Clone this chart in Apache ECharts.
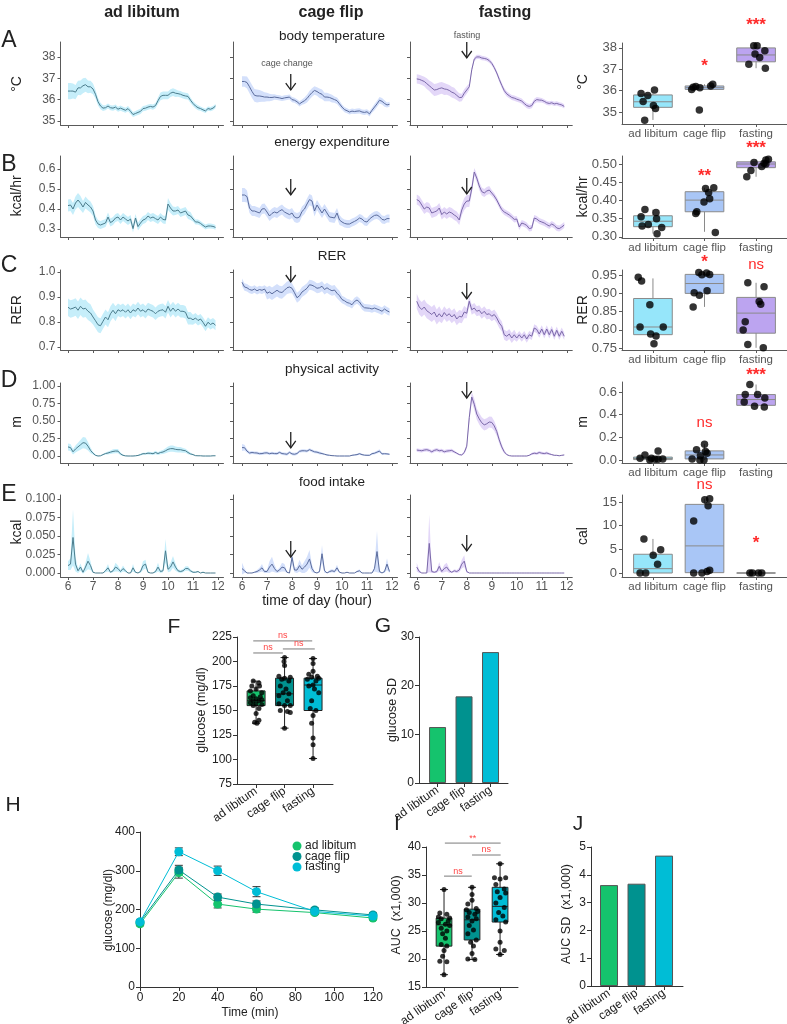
<!DOCTYPE html>
<html><head><meta charset="utf-8">
<script src="https://cdn.jsdelivr.net/npm/echarts@6/dist/echarts.min.js"></script>
<style>html,body{margin:0;padding:0;background:#fff}#c{width:787px;height:1024px}</style>
</head><body><div id="c"></div>
<script>
// ---------------- DATA ----------------
const groups = ['ad libitum', 'cage flip', 'fasting'];
const hourTicks = [6, 7, 8, 9, 10, 11, 12];
const hours = [6.0,6.1,6.2,6.3,6.4,6.5,6.6,6.7,6.8,6.9,
  7.0,7.1,7.2,7.3,7.4,7.5,7.6,7.7,7.8,7.9,
  8.0,8.1,8.2,8.3,8.4,8.5,8.6,8.7,8.8,8.9,
  9.0,9.1,9.2,9.3,9.4,9.5,9.6,9.7,9.8,9.9,
  10.0,10.1,10.2,10.3,10.4,10.5,10.6,10.7,10.8,10.9,
  11.0,11.1,11.2,11.3,11.4,11.5,11.6,11.7,11.8,11.9];

// body temperature (°C)
const btAdLib = [36.4,36.4,36.4,36.35,36.55,36.55,36.65,36.7,36.6,36.6,
  36.5,36.25,35.9,35.7,35.6,35.62,35.7,35.62,35.6,35.65,
  35.55,35.6,35.55,35.5,35.58,35.45,35.3,35.35,35.4,35.45,
  35.58,35.6,35.65,35.68,35.65,35.72,35.95,36.15,36.2,36.2,
  36.2,36.3,36.35,36.3,36.28,36.25,36.2,36.17,36.15,35.97,
  35.82,35.7,35.62,35.58,35.52,35.47,35.58,35.55,35.6,35.7];
const btAdLibSem = [0.38,0.38,0.35,0.33,0.33,0.35,0.35,0.33,0.3,0.28,
  0.25,0.2,0.18,0.15,0.13,0.12,0.12,0.12,0.12,0.12,
  0.12,0.12,0.12,0.12,0.12,0.12,0.12,0.12,0.12,0.12,
  0.12,0.12,0.12,0.12,0.12,0.12,0.15,0.18,0.18,0.18,
  0.18,0.18,0.18,0.18,0.15,0.15,0.15,0.15,0.15,0.13,
  0.12,0.12,0.12,0.1,0.1,0.1,0.1,0.1,0.1,0.1];
const btCage = [36.85,36.85,36.8,36.6,36.38,36.2,36.17,36.17,36.15,36.12,
  36.12,36.1,36.1,36.12,36.1,36.08,36.05,36.08,36.1,36.12,
  36.0,35.97,35.9,35.8,35.88,35.95,36.05,36.2,36.33,36.43,
  36.38,36.3,36.25,36.12,36.12,36.1,36.05,36.0,35.95,35.8,
  35.65,35.53,35.48,35.42,35.46,35.44,35.46,35.47,35.42,35.4,
  35.43,35.33,35.5,35.65,35.8,35.97,35.92,35.82,35.75,35.78];
const btCageSem = [0.25,0.25,0.28,0.3,0.3,0.3,0.3,0.28,0.25,0.22,
  0.2,0.18,0.15,0.13,0.12,0.12,0.12,0.12,0.12,0.12,
  0.12,0.12,0.12,0.12,0.12,0.15,0.18,0.2,0.2,0.2,
  0.2,0.22,0.22,0.2,0.2,0.18,0.18,0.15,0.15,0.15,
  0.12,0.12,0.12,0.12,0.12,0.12,0.12,0.12,0.12,0.12,
  0.12,0.12,0.12,0.15,0.15,0.15,0.15,0.15,0.12,0.12];
const btFast = [36.97,36.95,36.9,36.85,36.75,36.65,36.55,36.45,36.47,36.52,
  36.55,36.5,36.48,36.43,36.35,36.3,36.2,36.1,36.1,36.3,
  36.45,36.6,37.4,37.9,38.0,38.0,37.95,37.93,37.9,37.83,
  37.7,37.5,37.25,36.95,36.67,36.42,36.27,36.18,36.1,36.07,
  36.02,35.98,35.93,35.82,35.72,35.68,35.72,35.92,36.0,35.98,
  35.97,35.92,35.85,35.82,35.85,35.8,35.82,35.78,35.75,35.68];
const btFastSem = [0.22,0.22,0.22,0.22,0.25,0.25,0.28,0.28,0.28,0.28,
  0.28,0.28,0.25,0.25,0.25,0.25,0.22,0.2,0.18,0.18,
  0.18,0.15,0.12,0.1,0.1,0.1,0.1,0.1,0.1,0.1,
  0.1,0.1,0.1,0.12,0.12,0.12,0.12,0.12,0.12,0.12,
  0.12,0.12,0.12,0.12,0.12,0.12,0.12,0.12,0.12,0.12,
  0.1,0.1,0.1,0.1,0.1,0.1,0.1,0.1,0.1,0.1];

// energy expenditure (kcal/hr)
const eeAdLib = [0.417,0.42,0.40,0.43,0.445,0.43,0.41,0.433,0.42,0.41,
  0.39,0.345,0.325,0.32,0.325,0.33,0.36,0.332,0.34,0.355,
  0.36,0.345,0.36,0.35,0.34,0.35,0.302,0.355,0.312,0.33,
  0.345,0.35,0.365,0.355,0.36,0.352,0.345,0.36,0.348,0.345,
  0.425,0.405,0.39,0.39,0.395,0.38,0.385,0.39,0.37,0.365,
  0.35,0.335,0.335,0.328,0.318,0.31,0.315,0.315,0.313,0.308];
const eeAdLibSem = [0.03,0.03,0.03,0.032,0.035,0.035,0.03,0.03,0.028,0.028,
  0.025,0.022,0.02,0.02,0.02,0.02,0.022,0.02,0.02,0.02,
  0.02,0.02,0.02,0.02,0.02,0.02,0.02,0.02,0.02,0.02,
  0.02,0.02,0.02,0.02,0.02,0.02,0.02,0.02,0.02,0.02,
  0.03,0.025,0.022,0.02,0.02,0.02,0.02,0.02,0.02,0.02,
  0.012,0.012,0.012,0.012,0.012,0.012,0.012,0.012,0.012,0.012];
const eeCage = [0.47,0.47,0.462,0.405,0.39,0.39,0.385,0.38,0.4,0.402,
  0.385,0.365,0.378,0.385,0.38,0.39,0.397,0.385,0.378,0.372,
  0.38,0.36,0.355,0.36,0.388,0.4,0.425,0.447,0.44,0.39,
  0.42,0.4,0.38,0.4,0.38,0.36,0.358,0.355,0.38,0.345,
  0.335,0.328,0.325,0.325,0.332,0.338,0.345,0.355,0.35,0.338,
  0.335,0.35,0.36,0.368,0.37,0.362,0.348,0.345,0.352,0.352];
const eeCageSem = [0.035,0.035,0.03,0.025,0.025,0.025,0.025,0.025,0.025,0.025,
  0.025,0.025,0.025,0.025,0.025,0.025,0.025,0.025,0.025,0.025,
  0.025,0.025,0.025,0.025,0.025,0.025,0.028,0.028,0.028,0.028,
  0.025,0.025,0.025,0.025,0.025,0.025,0.025,0.025,0.025,0.025,
  0.02,0.02,0.02,0.02,0.02,0.02,0.02,0.02,0.02,0.02,
  0.02,0.02,0.02,0.02,0.02,0.02,0.02,0.02,0.02,0.02];
const eeFast = [0.447,0.44,0.42,0.4,0.41,0.405,0.38,0.385,0.39,0.405,
  0.372,0.385,0.375,0.385,0.38,0.37,0.362,0.345,0.395,0.425,
  0.44,0.44,0.5,0.585,0.555,0.515,0.487,0.48,0.49,0.495,
  0.48,0.465,0.445,0.42,0.397,0.385,0.378,0.37,0.36,0.348,
  0.35,0.31,0.33,0.325,0.318,0.302,0.305,0.355,0.35,0.34,
  0.335,0.33,0.322,0.315,0.325,0.318,0.305,0.302,0.31,0.32];
const eeFastSem = [0.025,0.025,0.025,0.025,0.025,0.025,0.025,0.025,0.025,0.025,
  0.025,0.025,0.025,0.025,0.025,0.025,0.025,0.025,0.028,0.03,
  0.03,0.03,0.025,0.02,0.02,0.02,0.02,0.02,0.02,0.02,
  0.015,0.015,0.015,0.015,0.015,0.015,0.015,0.015,0.015,0.015,
  0.015,0.015,0.015,0.015,0.015,0.015,0.015,0.015,0.015,0.015,
  0.015,0.015,0.015,0.015,0.015,0.015,0.015,0.015,0.015,0.015];

// RER
const rerAdLib = [0.859,0.852,0.855,0.86,0.847,0.863,0.852,0.855,0.843,0.836,
  0.82,0.805,0.789,0.785,0.803,0.82,0.809,0.833,0.847,0.833,
  0.849,0.843,0.849,0.839,0.849,0.836,0.849,0.843,0.856,0.843,
  0.849,0.839,0.852,0.847,0.843,0.833,0.843,0.847,0.849,0.839,
  0.863,0.843,0.856,0.843,0.852,0.843,0.843,0.839,0.815,0.815,
  0.809,0.816,0.806,0.812,0.799,0.783,0.799,0.79,0.796,0.787];
const rerAdLibSem = [0.035,0.035,0.035,0.035,0.035,0.035,0.035,0.035,0.035,0.035,
  0.03,0.03,0.03,0.03,0.03,0.03,0.03,0.03,0.03,0.03,
  0.025,0.025,0.025,0.025,0.025,0.025,0.025,0.025,0.025,0.025,
  0.025,0.025,0.025,0.025,0.025,0.025,0.025,0.025,0.025,0.025,
  0.025,0.025,0.025,0.025,0.025,0.025,0.025,0.025,0.025,0.025,
  0.02,0.02,0.02,0.02,0.02,0.02,0.02,0.02,0.02,0.02];
const rerCage = [0.959,0.94,0.937,0.93,0.927,0.932,0.925,0.93,0.927,0.932,
  0.915,0.92,0.913,0.92,0.927,0.92,0.918,0.927,0.937,0.94,
  0.935,0.917,0.897,0.905,0.92,0.927,0.935,0.949,0.947,0.942,
  0.935,0.937,0.943,0.93,0.937,0.93,0.925,0.928,0.915,0.905,
  0.89,0.885,0.878,0.875,0.869,0.882,0.888,0.88,0.865,0.857,
  0.856,0.855,0.852,0.856,0.852,0.848,0.843,0.852,0.845,0.84];
const rerCageSem = [0.015,0.015,0.015,0.015,0.015,0.015,0.015,0.015,0.015,0.015,
  0.025,0.025,0.025,0.025,0.025,0.025,0.025,0.025,0.025,0.025,
  0.02,0.02,0.02,0.02,0.02,0.02,0.02,0.02,0.02,0.02,
  0.02,0.02,0.02,0.02,0.02,0.02,0.02,0.02,0.02,0.02,
  0.015,0.015,0.015,0.015,0.015,0.015,0.015,0.015,0.015,0.015,
  0.015,0.015,0.015,0.015,0.015,0.015,0.015,0.015,0.015,0.015];
const rerFast = [0.883,0.86,0.85,0.86,0.845,0.838,0.83,0.84,0.82,0.833,
  0.82,0.838,0.825,0.833,0.82,0.83,0.812,0.823,0.82,0.84,
  0.835,0.883,0.849,0.856,0.843,0.847,0.833,0.843,0.83,0.833,
  0.823,0.83,0.816,0.796,0.783,0.749,0.743,0.752,0.736,0.749,
  0.736,0.749,0.736,0.749,0.732,0.749,0.743,0.776,0.77,0.752,
  0.772,0.749,0.772,0.749,0.77,0.743,0.767,0.743,0.763,0.743];
const rerFastSem = [0.03,0.03,0.03,0.03,0.03,0.03,0.03,0.03,0.03,0.03,
  0.025,0.025,0.025,0.025,0.025,0.025,0.025,0.025,0.025,0.025,
  0.02,0.02,0.02,0.02,0.02,0.02,0.02,0.02,0.02,0.02,
  0.02,0.02,0.02,0.02,0.02,0.02,0.02,0.02,0.02,0.02,
  0.015,0.015,0.015,0.015,0.015,0.015,0.015,0.015,0.015,0.015,
  0.015,0.015,0.015,0.015,0.015,0.015,0.015,0.015,0.015,0.015];

// physical activity (m)
const paAdLib = [0.13,0.12,0.06,0.1,0.13,0.16,0.19,0.185,0.14,0.08,
  0.04,0.01,0,0.003,0.02,0.035,0.043,0.055,0.065,0.071,
  0.07,0.03,0.01,0.002,0,0,0,0.003,0.008,0.02,
  0.033,0.033,0.04,0.038,0.033,0.05,0.035,0.05,0.057,0.075,
  0.095,0.105,0.105,0.095,0.09,0.09,0.081,0.075,0.05,0.03,
  0.02,0.005,0.003,0.003,0,0,0,0,0.003,0.003];
const paAdLibSem = [0.05,0.05,0.04,0.05,0.06,0.07,0.08,0.08,0.06,0.04,
  0.02,0.01,0.005,0.005,0.01,0.015,0.02,0.025,0.03,0.03,
  0.03,0.02,0.01,0.005,0.003,0.003,0.003,0.005,0.008,0.012,
  0.015,0.015,0.02,0.02,0.02,0.025,0.02,0.025,0.03,0.035,
  0.04,0.045,0.045,0.04,0.04,0.04,0.035,0.03,0.025,0.015,
  0.01,0.005,0.003,0.003,0.002,0.002,0.002,0.002,0.003,0.003];
const paCage = [0.12,0.119,0.07,0.043,0.05,0.045,0.043,0.033,0.035,0.043,
  0.045,0.033,0.04,0.035,0.033,0.052,0.035,0.03,0.025,0.052,
  0.03,0.025,0.035,0.067,0.075,0.075,0.07,0.09,0.075,0.06,
  0.055,0.043,0.035,0.025,0.015,0.01,0.005,0.003,0,0,
  0,0,0,0,0.01,0.015,0.02,0.033,0.02,0.012,
  0.01,0.01,0.033,0.04,0.055,0.071,0.03,0.033,0.03,0.025];
const paCageSem = [0.05,0.04,0.025,0.02,0.02,0.02,0.02,0.02,0.02,0.02,
  0.02,0.02,0.02,0.02,0.02,0.02,0.02,0.02,0.02,0.02,
  0.02,0.02,0.02,0.02,0.02,0.02,0.02,0.02,0.02,0.02,
  0.02,0.02,0.015,0.012,0.01,0.008,0.005,0.003,0.002,0.002,
  0.002,0.002,0.002,0.002,0.008,0.01,0.012,0.015,0.012,0.01,
  0.01,0.01,0.015,0.018,0.02,0.025,0.015,0.015,0.012,0.01];
const paFast = [0.085,0.08,0.075,0.085,0.09,0.08,0.06,0.08,0.09,0.075,
  0.08,0.06,0.07,0.075,0.08,0.06,0.04,0.02,0.015,0.05,
  0.14,0.55,0.843,0.74,0.6,0.53,0.475,0.445,0.46,0.486,
  0.48,0.43,0.35,0.23,0.13,0.06,0.02,0.005,0,0,
  0,0,0,0,0,0.01,0.03,0.04,0.035,0.05,
  0.04,0.035,0.043,0.03,0.02,0.01,0.01,0.003,0.01,0.015];
const paFastSem = [0.025,0.025,0.025,0.025,0.025,0.025,0.025,0.025,0.025,0.025,
  0.025,0.025,0.025,0.025,0.025,0.02,0.015,0.01,0.01,0.02,
  0.04,0.08,0.07,0.08,0.08,0.08,0.08,0.08,0.08,0.08,
  0.08,0.07,0.06,0.05,0.04,0.025,0.01,0.003,0.002,0.002,
  0.002,0.002,0.002,0.002,0.002,0.008,0.015,0.02,0.02,0.02,
  0.02,0.02,0.02,0.015,0.01,0.008,0.005,0.003,0.005,0.005];

// food intake (kcal)
const foodAdLib = [0.01,0.012,0.048,0.012,0.003,0.008,0.001,0.008,0.016,0.01,
  0.001,0,0,0,0,0.003,0.007,0.001,0.003,0.008,
  0.006,0.002,0.006,0.003,0,0,0.007,0.001,0,0.002,
  0.01,0.012,0.001,0,0,0.002,0.008,0.002,0.003,0.03,
  0.005,0.008,0.015,0.008,0.003,0.002,0.003,0.006,0.006,0.003,
  0.001,0.001,0.002,0,0.001,0,0,0,0,0];
const foodAdLibSem = [0.006,0.008,0.038,0.01,0.003,0.005,0.002,0.006,0.011,0.006,
  0.001,0,0,0,0,0.002,0.005,0.001,0.002,0.006,
  0.004,0.002,0.004,0.002,0,0,0.005,0.001,0,0.002,
  0.006,0.006,0.001,0,0,0.002,0.006,0.002,0.002,0.016,
  0.004,0.006,0.008,0.005,0.002,0.002,0.002,0.003,0.003,0.002,
  0.001,0.001,0.001,0,0.001,0,0,0,0,0];
const foodCage = [0.006,0.003,0,0,0,0.001,0.002,0.004,0.007,0.002,
  0.002,0.008,0.012,0.006,0.002,0.004,0.008,0.007,0.001,0,
  0.021,0.004,0.004,0.01,0.005,0.008,0.012,0.019,0.006,0.001,
  0,0.002,0.026,0.003,0,0.002,0.003,0.002,0.007,0.001,
  0,0,0.001,0,0,0,0.002,0.003,0,0,
  0,0,0,0.006,0.029,0.002,0,0.002,0.012,0.002];
const foodCageSem = [0.008,0.003,0,0,0,0.001,0.002,0.003,0.005,0.002,
  0.002,0.008,0.01,0.005,0.002,0.003,0.006,0.005,0.001,0,
  0.01,0.003,0.004,0.008,0.005,0.008,0.01,0.012,0.005,0.001,
  0,0.002,0.012,0.003,0,0.002,0.002,0.002,0.004,0.001,
  0,0,0,0,0,0,0.001,0.002,0,0,
  0,0,0,0.004,0.028,0.002,0,0.002,0.008,0.002];
const foodFast = [0.008,0.002,0,0,0,0.04,0.002,0.001,0.002,0.009,
  0.002,0.006,0.008,0.003,0.001,0.003,0.002,0.004,0.012,0.016,
  0.002,0,0,0,0,0,0,0,0,0,
  0,0,0,0,0,0,0,0,0,0,
  0,0,0,0,0,0,0,0,0,0,
  0,0,0,0,0,0,0,0,0,0];
const foodFastSem = [0.006,0.002,0,0,0,0.039,0.002,0.001,0.002,0.006,
  0.002,0.005,0.006,0.003,0.001,0.002,0.002,0.003,0.006,0.008,
  0.002,0,0,0,0,0,0,0,0,0,
  0,0,0,0,0,0,0,0,0,0,
  0,0,0,0,0,0,0,0,0,0,
  0,0,0,0,0,0,0,0,0,0];

// right-hand box plots: [min, q1, median, q3, max] per group, points as [x, y]
const tempBoxes = [[34.63,35.22,35.48,35.8,35.87],[36.05,36.06,36.14,36.22,36.3],[37.05,37.35,37.67,38.0,38.1]];
const tempPts = [[0.77,35.87],[1.03,36.03],[0.9,35.77],[0.81,35.49],[1.01,35.3],[1.05,35.17],[0.84,34.62],
  [1.75,36.06],[1.83,36.19],[1.91,36.14],[2.12,36.22],[2.16,36.3],[1.9,35.1],[1.78,36.16],
  [2.955,38.1],[3.02,38.1],[3.17,37.87],[2.98,37.72],[3.07,37.55],[2.86,37.24],[3.18,37.05]];
const tempSig = [[2,37.3,'*'],[3,39.2,'***']];
const eeBoxes = [[0.309,0.328,0.343,0.358,0.375],[0.314,0.369,0.401,0.424,0.435],[0.465,0.49,0.5,0.506,0.513]];
const eePts = [[0.845,0.375],[1.06,0.367],[0.77,0.355],[1.07,0.35],[0.91,0.334],[0.79,0.33],[1.17,0.326],[1.08,0.309],
  [2.02,0.433],[2.08,0.422],[2.18,0.435],[2.1,0.405],[1.99,0.396],[1.85,0.369],[1.83,0.364],[2.21,0.312],
  [2.96,0.504],[3.155,0.502],[3.19,0.511],[3.24,0.513],[3.19,0.5],[3.11,0.493],[2.9,0.482],[2.82,0.465]];
const eeSig = [[2,0.475,'**'],[3,0.552,'***']];
const rerBoxes = [[0.787,0.787,0.808,0.886,0.941],[0.863,0.9,0.927,0.952,0.957],[0.751,0.791,0.846,0.889,0.929]];
const rerPts = [[0.715,0.944],[0.78,0.934],[0.94,0.869],[0.75,0.808],[1.2,0.808],[0.955,0.789],[1.06,0.783],[1.02,0.762],
  [1.89,0.957],[2.04,0.956],[2.1,0.952],[1.95,0.951],[1.8,0.902],[1.9,0.895],[2.05,0.907],[1.78,0.863],
  [2.84,0.929],[3.155,0.918],[3.06,0.878],[3.09,0.87],[2.79,0.822],[2.75,0.8],[2.84,0.76],[3.14,0.751]];
const rerSig = [[2,0.994,'*'],[3,0.977,'ns']];
const paBoxes = [[0,0.003,0.013,0.025,0.044],[0,0.009,0.044,0.08,0.139],[0.467,0.482,0.533,0.577,0.666]];
const paPts = [[0.75,0.015],[0.845,0.044],[0.97,0.015],[1.04,0.006],[1.1,0.006],[1.19,0.009],[1.1,0.08],[0.94,0.0],
  [2.0,0.139],[1.845,0.089],[2.02,0.074],[2.05,0.059],[1.92,0.036],[1.76,0.009],[1.91,0.0],[1.99,0.0],
  [2.88,0.666],[2.79,0.577],[3.03,0.577],[3.17,0.547],[2.77,0.512],[2.97,0.473],[3.16,0.467]];
const paSig = [[2,0.326,'ns'],[3,0.777,'***']];
const foodBoxes = [[0,0,0.92,3.96,7.2],[0,0.07,5.73,14.5,15.7],[0,0,0,0,0]];
const foodPts = [[0.825,7.2],[1.15,4.9],[1.005,3.75],[1.09,1.84],[0.75,0],[0.86,0],
  [2.1,15.7],[2.005,15.5],[2.07,14.2],[1.79,11.0],[2.1,0.6],[2.05,0.3],[1.79,0],[1.95,0],
  [2.88,0],[2.93,0],[3.045,0],[3.11,0]];
const foodSig = [[2,18.6,'ns'],[3,6.97,'*']];

// F: fasting glucose (mg/dl)
const fBoxes = [[137,155,160,170,180],[132,155,167,183,204],[101,150,176,183,203]];
const fPts = [[0.9,180],[1.1,178],[0.85,175],[1.12,175],[1.0,172],[0.8,170],[1.2,168],[0.9,165],[1.15,164],[0.8,163],[1.0,162],[1.2,161],[0.9,160],[1.1,160],[0.8,158],[1.0,157],[1.2,156],[0.9,155],[1.1,152],[1.0,147],[1.1,140],[0.95,138],[1.03,137],
  [2.0,204],[1.98,200],[2.0,196],[1.8,185],[2.2,184],[2.0,183],[1.9,182],[2.15,180],[1.85,175],[2.05,172],[1.95,168],[2.15,167],[1.8,165],[2.1,160],[1.8,157],[2.2,155],[2.0,155],[1.85,150],[2.1,149],[2.2,148],[2.0,132],
  [3.0,203],[3.0,198],[3.0,190],[2.85,187],[3.15,185],[2.95,184],[3.2,183],[2.8,182],[3.1,180],[3.0,176],[2.85,175],[3.05,172],[3.2,168],[2.95,160],[2.9,152],[3.1,150],[3.0,145],[2.95,137],[3.0,122],[3.0,115],[3.0,101]];
const fBrackets = [[0.9,2.97,221,'ns'],[0.9,1.94,208.7,'ns'],[1.94,3.06,212.8,'ns']];
// G: glucose SD
const gSD = [11.5, 17.8, 26.9];
// H: glucose tolerance test
const hTimes = [0, 20, 40, 60, 90, 120];
const hAdLib = [163, 295, 214, 201, 192, 178];
const hAdLibErr = [5, 14, 10, 8, 5, 5];
const hCage = [168, 302, 232, 214, 199, 186];
const hCageErr = [5, 12, 8, 8, 5, 5];
const hFast = [168, 349, 300, 246, 195, 183];
const hFastErr = [5, 10, 12, 13, 5, 5];
// I: AUC (x1,000)
const iBoxes = [[17.2,22.3,26.1,27.3,32.4],[19.9,23.4,27.0,28.9,32.8],[20.8,26.6,29.4,32.8,37.0]];
const iPts = [[1.0,32.4],[0.85,28.2],[1.1,28.0],[0.8,27.5],[1.2,27.3],[0.9,27.2],[1.15,26.8],[0.8,26.5],[1.05,26.2],[1.2,26.0],[0.9,25.5],[1.1,25.0],[0.95,24.5],[1.05,23.7],[0.9,22.6],[1.1,22.3],[1.0,21.5],[0.95,20.5],[0.85,19.6],[1.1,19.5],[1.0,17.2],
  [2.0,32.8],[2.0,31.5],[2.0,30.5],[1.85,29.8],[2.15,29.0],[1.8,28.8],[2.2,28.5],[1.9,28.3],[2.1,28.0],[1.85,27.5],[2.15,27.2],[2.0,26.8],[1.9,26.0],[2.05,25.2],[1.85,24.5],[2.15,23.4],[1.95,23.0],[2.05,22.3],[2.0,21.0],[1.85,20.0],[2.1,19.9],
  [3.0,37.0],[2.8,34.5],[3.2,34.5],[3.0,34.3],[2.85,33.3],[3.15,32.5],[2.9,32.0],[3.2,31.8],[3.0,31.0],[2.85,30.0],[3.15,29.2],[2.95,28.3],[3.1,27.7],[2.85,27.0],[3.2,26.6],[3.0,25.0],[3.0,23.0],[2.85,21.8],[3.15,21.5],[3.0,20.8]];
const iBrackets = [[1.03,3.02,40.7,'**'],[2.0,3.02,38.57,'ns'],[1.0,1.99,34.8,'ns']];
// J: AUC SD (x1,000)
const jSD = [3.63, 3.68, 4.69];

// ---------------- BUILD ----------------
const FF = '"Liberation Sans", Arial, Helvetica, sans-serif';
const AX = '#5a5a5a';
const lineColors = ['#4c7d8d', '#5b6c9c', '#7a68a8'];
const bandColors = ['#c6eefa', '#d4e0fb', '#e3d7f8'];
const boxFills = ['#96e6fa', '#a9c6f6', '#bca4f0'];
const gColors = ['#15c36d', '#00928f', '#00bdd6'];

const grids = [], xAxes = [], yAxes = [], series = [], graphics = [];
function addGrid(g, xa, ya) {
  const i = grids.length;
  grids.push(Object.assign({outerBoundsMode: 'none', containLabel: false}, g));
  xAxes.push(Object.assign({gridIndex: i, splitLine: {show: false}}, xa));
  yAxes.push(Object.assign({gridIndex: i, splitLine: {show: false}}, ya));
  return i;
}
function axLine(c) { return {show: true, onZero: false, lineStyle: {color: c, width: 1}}; }

// time-series panels
const colLeft = [60.5, 233, 410];
const colMin = [5.7, 5.64, 5.73];
const tsMax = 12.22;
const tsRows = [
  {d: [btAdLib, btCage, btFast], s: [btAdLibSem, btCageSem, btFastSem], top: 42, h: 83, min: 34.81, max: 38.7, ticks: [35,36,37,38], dec: 0},
  {d: [eeAdLib, eeCage, eeFast], s: [eeAdLibSem, eeCageSem, eeFastSem], top: 156, h: 81, min: 0.26, max: 0.665, ticks: [0.3,0.4,0.5,0.6], dec: 1},
  {d: [rerAdLib, rerCage, rerFast], s: [rerAdLibSem, rerCageSem, rerFastSem], top: 270, h: 80, min: 0.688, max: 1.008, ticks: [0.7,0.8,0.9,1.0], dec: 1},
  {d: [paAdLib, paCage, paFast], s: [paAdLibSem, paCageSem, paFastSem], top: 383, h: 80, min: -0.1, max: 1.043, ticks: [0,0.25,0.5,0.75,1.0], dec: 2},
  {d: [foodAdLib, foodCage, foodFast], s: [foodAdLibSem, foodCageSem, foodFastSem], top: 495, h: 82, min: -0.0054, max: 0.1054, ticks: [0,0.025,0.05,0.075,0.1], dec: 3}
];
const arrowTops = [[37.2, 38.7], [0.55, 0.555], [1.024, 0.956], [0.343, 1.057], [0.0432, 0.0514]];
const arrowX = [7.95, 8.0];

function arrowRender(params, api) {
  const p = api.coord([api.value(0), api.value(1)]);
  const L = 16;
  return {type: 'group', children: [
    {type: 'line', shape: {x1: p[0], y1: p[1], x2: p[0], y2: p[1] + L}, style: {stroke: '#222', lineWidth: 1.3}},
    {type: 'polyline', shape: {points: [[p[0] - 5, p[1] + L - 7], [p[0], p[1] + L], [p[0] + 5, p[1] + L - 7]]}, style: {stroke: '#222', lineWidth: 1.3, fill: null}}
  ]};
}
// ribbon (mean ± sem) drawn as one polygon through the axis scales
function bandRender(v, s, color) {
  return function (params, api) {
    if (params.dataIndex !== 0) return null;
    const up = [], lo = [];
    for (let i = 0; i < hours.length; i++) {
      up.push(api.coord([hours[i], v[i] + s[i]]));
      lo.push(api.coord([hours[i], v[i] - s[i]]));
    }
    return {type: 'polygon', shape: {points: up.concat(lo.reverse())}, style: {fill: color, stroke: null}};
  };
}

tsRows.forEach((row, r) => {
  for (let c = 0; c < 3; c++) {
    const g = addGrid(
      {left: colLeft[c], top: row.top, width: (tsMax - colMin[c]) * 25, height: row.h},
      {type: 'value', min: colMin[c], max: tsMax, axisLine: axLine(AX),
       axisTick: {show: true, customValues: hourTicks, length: 3, lineStyle: {color: AX}},
       axisLabel: {show: r === 4, customValues: hourTicks, color: '#555', fontSize: 12, fontFamily: FF, margin: 4}},
      {type: 'value', min: row.min, max: row.max, axisLine: axLine(AX),
       axisTick: {show: true, customValues: row.ticks, length: 3, lineStyle: {color: AX}},
       axisLabel: {show: c === 0, customValues: row.ticks, color: '#555', fontSize: 12, fontFamily: FF, margin: 5,
         formatter: (v) => Number(v).toFixed(row.dec)}}
    );
    const v = row.d[c], s = row.s[c];
    series.push({type: 'custom', xAxisIndex: g, yAxisIndex: g, clip: true, silent: true, z: 1,
      data: hours.map((h, i) => [h, v[i] - s[i], v[i] + s[i]]), encode: {x: 0, y: [1, 2]},
      renderItem: bandRender(v, s, bandColors[c])});
    series.push({type: 'line', xAxisIndex: g, yAxisIndex: g, data: hours.map((h, i) => [h, v[i]]),
      symbol: 'none', lineStyle: {color: lineColors[c], width: 1}, silent: true, z: 2});
    if (c > 0) {
      series.push({type: 'custom', xAxisIndex: g, yAxisIndex: g, clip: false, silent: true, z: 5,
        data: [[arrowX[c - 1], arrowTops[r][c - 1]]], renderItem: arrowRender});
    }
  }
});

// box rendering
function makeBoxRender(boxW, fills, stroke, caps, lw) {
  return function (params, api) {
    const x = api.value(0);
    const lo = api.coord([x, api.value(1)]), q1 = api.coord([x, api.value(2)]),
      md = api.coord([x, api.value(3)]), q3 = api.coord([x, api.value(4)]), hi = api.coord([x, api.value(5)]);
    const l = api.coord([x - boxW / 2, api.value(3)])[0], rr = api.coord([x + boxW / 2, api.value(3)])[0];
    const ch = [
      {type: 'line', shape: {x1: lo[0], y1: lo[1], x2: hi[0], y2: hi[1]}, style: {stroke, lineWidth: lw}},
      {type: 'rect', shape: {x: l, y: q3[1], width: rr - l, height: Math.max(q1[1] - q3[1], 0.01)}, style: {fill: fills[params.dataIndex], stroke, lineWidth: lw}},
      {type: 'line', shape: {x1: l, y1: md[1], x2: rr, y2: md[1]}, style: {stroke, lineWidth: lw}}
    ];
    if (caps) {
      ch.push({type: 'line', shape: {x1: lo[0] - caps, y1: lo[1], x2: lo[0] + caps, y2: lo[1]}, style: {stroke, lineWidth: lw}});
      ch.push({type: 'line', shape: {x1: hi[0] - caps, y1: hi[1], x2: hi[0] + caps, y2: hi[1]}, style: {stroke, lineWidth: lw}});
    }
    return {type: 'group', children: ch};
  };
}
function sigRender(labels, opts) {
  return function (params, api) {
    const p = api.coord([api.value(0), api.value(1)]);
    const t = labels[params.dataIndex];
    const star = t.indexOf('*') >= 0;
    return {type: 'text', x: p[0], y: p[1] + (star ? opts.starShift : 0),
      style: {text: t, fill: opts.color, fontSize: star ? opts.starSize : opts.nsSize, fontFamily: FF, fontWeight: star ? 'bold' : 'normal', align: 'center', verticalAlign: 'middle'}};
  };
}

// right-hand box panels
const rbRows = [
  {b: tempBoxes, p: tempPts, sig: tempSig, top: 43, h: 81, min: 34.44, max: 38.23, ticks: [35,36,37,38], dec: 0},
  {b: eeBoxes, p: eePts, sig: eeSig, top: 156, h: 82, min: 0.297, max: 0.522, ticks: [0.3,0.35,0.4,0.45,0.5], dec: 2},
  {b: rerBoxes, p: rerPts, sig: rerSig, top: 270, h: 80, min: 0.745, max: 0.964, ticks: [0.75,0.8,0.85,0.9,0.95], dec: 2},
  {b: paBoxes, p: paPts, sig: paSig, top: 382, h: 81, min: -0.027, max: 0.688, ticks: [0,0.2,0.4,0.6], dec: 1},
  {b: foodBoxes, p: foodPts, sig: foodSig, top: 495, h: 82, min: -0.845, max: 16.48, ticks: [0,5,10,15], dec: 0}
];
rbRows.forEach((row) => {
  const g = addGrid(
    {left: 622, top: row.top, width: 165, height: row.h},
    {type: 'value', min: 0.4, max: 3.6, axisLine: axLine(AX),
     axisTick: {show: true, customValues: [1,2,3], length: 3, lineStyle: {color: AX}},
     axisLabel: {show: true, customValues: [1,2,3], color: '#555', fontSize: 11.5, fontFamily: FF, margin: 4,
       formatter: (v) => groups[Math.round(v) - 1]}},
    {type: 'value', min: row.min, max: row.max, axisLine: axLine(AX),
     axisTick: {show: true, customValues: row.ticks, length: 3, lineStyle: {color: AX}},
     axisLabel: {show: true, customValues: row.ticks, color: '#555', fontSize: 13, fontFamily: FF, margin: 5,
       formatter: (v) => Number(v).toFixed(row.dec)}}
  );
  series.push({type: 'custom', xAxisIndex: g, yAxisIndex: g, silent: true, z: 2,
    data: row.b.map((b, i) => [i + 1].concat(b)), renderItem: makeBoxRender(0.75, boxFills, '#8a8a8a', 0, 1)});
  series.push({type: 'scatter', xAxisIndex: g, yAxisIndex: g, silent: true, z: 3, data: row.p,
    symbolSize: 7.5, itemStyle: {color: '#000'}});
  series.push({type: 'custom', xAxisIndex: g, yAxisIndex: g, clip: false, silent: true, z: 4,
    data: row.sig.map(s => [s[0], s[1]]),
    renderItem: sigRender(row.sig.map(s => s[2]), {color: '#ff2a2a', starSize: 17, nsSize: 15, starShift: 3})});
});

// bottom panels axes helpers
const BK = '#333';
function catX(min, max) {
  return {type: 'value', min, max, axisLine: axLine(BK),
    axisTick: {show: true, customValues: [1,2,3], length: 4, lineStyle: {color: BK}},
    axisLabel: {show: true, customValues: [1,2,3], rotate: 35, color: '#222', fontSize: 12, fontFamily: FF, margin: 6,
      formatter: (v) => groups[Math.round(v) - 1]}};
}
function valY(min, max, interval) {
  return {type: 'value', min, max, interval, axisLine: axLine(BK),
    axisTick: {show: true, length: 4, lineStyle: {color: BK}},
    axisLabel: {color: '#222', fontSize: 12, fontFamily: FF, margin: 5}};
}
function bracketRender(labels) {
  return function (params, api) {
    const a = api.coord([api.value(0), api.value(2)]), b = api.coord([api.value(1), api.value(2)]);
    return {type: 'group', children: [
      {type: 'line', shape: {x1: a[0], y1: a[1], x2: b[0], y2: b[1]}, style: {stroke: '#7a7a7a', lineWidth: 1}},
      {type: 'text', x: (a[0] + b[0]) / 2, y: a[1] - 5, style: {text: labels[params.dataIndex], fill: '#ff4545', fontSize: 9, fontFamily: FF, align: 'center', verticalAlign: 'middle'}}
    ]};
  };
}

// F
const gF = addGrid({left: 237, top: 637, width: 96, height: 147}, catX(0.33, 3.7), valY(75, 225, 25));
series.push({type: 'custom', xAxisIndex: gF, yAxisIndex: gF, silent: true, z: 2,
  data: fBoxes.map((b, i) => [i + 1].concat(b)), renderItem: makeBoxRender(0.63, gColors, '#222', 4, 1)});
series.push({type: 'scatter', xAxisIndex: gF, yAxisIndex: gF, silent: true, z: 3, data: fPts, symbolSize: 5, itemStyle: {color: '#000'}});
series.push({type: 'custom', xAxisIndex: gF, yAxisIndex: gF, clip: false, silent: true, z: 4,
  data: fBrackets.map(b => [b[0], b[1], b[2]]), renderItem: bracketRender(fBrackets.map(b => b[3]))});

// G
const gG = addGrid({left: 419, top: 637, width: 89, height: 146}, catX(0.30, 3.66), valY(0, 30, 10));
series.push({type: 'bar', xAxisIndex: gG, yAxisIndex: gG, silent: true, barWidth: 17,
  data: gSD.map((v, i) => ({value: [i + 1, v], itemStyle: {color: gColors[i], borderColor: '#555', borderWidth: 1}}))});

// H
const gH = addGrid({left: 140, top: 832, width: 233, height: 155},
  {type: 'value', min: 0, max: 120, interval: 20, axisLine: axLine(BK), axisTick: {show: true, length: 4, lineStyle: {color: BK}},
   axisLabel: {color: '#222', fontSize: 12, fontFamily: FF, margin: 5}},
  valY(0, 400, 100));
const hSets = [[hAdLib, hAdLibErr], [hCage, hCageErr], [hFast, hFastErr]];
hSets.forEach((set, k) => {
  series.push({type: 'custom', xAxisIndex: gH, yAxisIndex: gH, silent: true, z: 2,
    data: hTimes.map((t, i) => [t, set[0][i], set[1][i]]),
    renderItem: function (params, api) {
      const t = api.value(0), m = api.value(1), e = api.value(2);
      const a = api.coord([t, m - e]), b = api.coord([t, m + e]);
      const st = {stroke: '#333', lineWidth: 1};
      return {type: 'group', children: [
        {type: 'line', shape: {x1: a[0], y1: a[1], x2: b[0], y2: b[1]}, style: st},
        {type: 'line', shape: {x1: a[0] - 4, y1: a[1], x2: a[0] + 4, y2: a[1]}, style: st},
        {type: 'line', shape: {x1: b[0] - 4, y1: b[1], x2: b[0] + 4, y2: b[1]}, style: st}
      ]};
    }});
  series.push({type: 'line', name: groups[k], xAxisIndex: gH, yAxisIndex: gH, silent: true, z: 3 + k,
    data: hTimes.map((t, i) => [t, set[0][i]]), symbol: 'circle', symbolSize: 9,
    itemStyle: {color: gColors[k]}, lineStyle: {color: gColors[k], width: 1}});
});

// I
const gI = addGrid({left: 426, top: 847, width: 92, height: 140}, catX(0.357, 3.64), valY(15, 40, 5));
series.push({type: 'custom', xAxisIndex: gI, yAxisIndex: gI, silent: true, z: 2,
  data: iBoxes.map((b, i) => [i + 1].concat(b)), renderItem: makeBoxRender(0.56, gColors, '#222', 4, 1)});
series.push({type: 'scatter', xAxisIndex: gI, yAxisIndex: gI, silent: true, z: 3, data: iPts, symbolSize: 5, itemStyle: {color: '#000'}});
series.push({type: 'custom', xAxisIndex: gI, yAxisIndex: gI, clip: false, silent: true, z: 4,
  data: iBrackets.map(b => [b[0], b[1], b[2]]), renderItem: bracketRender(iBrackets.map(b => b[3]))});

// J
const gJ = addGrid({left: 591, top: 847, width: 92, height: 139}, catX(0.345, 3.69), valY(0, 5, 1));
series.push({type: 'bar', xAxisIndex: gJ, yAxisIndex: gJ, silent: true, barWidth: 18,
  data: jSD.map((v, i) => ({value: [i + 1, v], itemStyle: {color: gColors[i], borderColor: '#555', borderWidth: 1}}))});

// ---------------- TEXT ----------------
function txt(text, x, y, size, opt) {
  opt = opt || {};
  graphics.push({type: 'text', x, y, rotation: opt.rot || 0, silent: true, z: 10,
    style: {text, fontSize: size, fontFamily: FF, fontWeight: opt.bold ? 'bold' : 'normal', fill: opt.color || '#222',
      align: opt.align || 'center', verticalAlign: 'middle'}});
}
const R = Math.PI / 2;
txt('ad libitum', 142, 13, 16, {bold: true});
txt('cage flip', 331, 13, 16, {bold: true});
txt('fasting', 505, 13, 16, {bold: true});
txt('body temperature', 332, 36, 13.5);
txt('energy expenditure', 332, 142, 13.5);
txt('RER', 332, 256, 13.5);
txt('physical activity', 332, 369, 13.5);
txt('food intake', 332, 482, 13.5);
txt('A', 9, 41, 23); txt('B', 9, 165, 23); txt('C', 9, 266, 23); txt('D', 9, 381, 23); txt('E', 9, 495, 23);
txt('°C', 17, 84, 14, {rot: R}); txt('kcal/hr', 17, 196, 14, {rot: R}); txt('RER', 17, 310, 14, {rot: R});
txt('m', 17, 422, 14, {rot: R}); txt('kcal', 17, 532, 14, {rot: R});
txt('°C', 583, 82, 14, {rot: R}); txt('kcal/hr', 583, 197, 14, {rot: R}); txt('RER', 583, 310, 14, {rot: R});
txt('m', 583, 422, 14, {rot: R}); txt('cal', 583, 536, 14, {rot: R});
txt('time of day (hour)', 317, 601, 14);
txt('cage change', 287, 64, 9, {color: '#555'});
txt('fasting', 467, 36, 9, {color: '#555'});
txt('F', 174, 627, 21); txt('G', 383, 626, 21); txt('H', 13, 805, 21); txt('I', 397, 824, 21); txt('J', 578, 824, 21);
txt('glucose (mg/dl)', 202, 710, 12.5, {rot: R});
txt('glucose SD', 393, 710, 12.5, {rot: R});
txt('glucose (mg/dl)', 109, 910, 12, {rot: R});
txt('Time (min)', 250, 1013, 12);
txt('AUC  (x1,000)', 397, 915, 12.5, {rot: R});
txt('AUC SD  (x1,000)', 567, 914, 12.5, {rot: R});
// H legend
groups.forEach((g, k) => {
  graphics.push({type: 'circle', shape: {cx: 297, cy: 846 + k * 10.5, r: 4.5}, style: {fill: gColors[k]}, silent: true, z: 10});
  txt(g, 305, 846 + k * 10.5, 12, {align: 'left'});
});

const chart = echarts.init(document.getElementById('c'), null, {renderer: 'canvas'});
chart.setOption({
  animation: false,
  backgroundColor: '#fff',
  textStyle: {fontFamily: FF},
  grid: grids, xAxis: xAxes, yAxis: yAxes, series, graphic: graphics
});
</script></body></html>
